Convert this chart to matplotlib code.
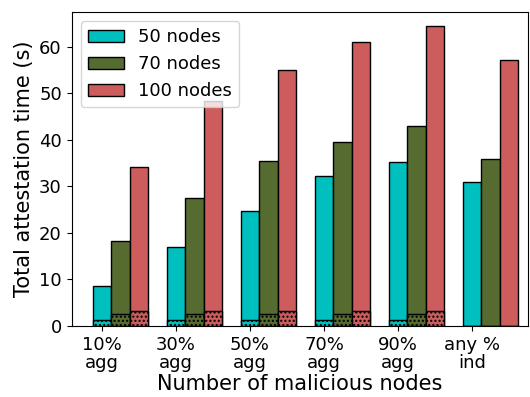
import numpy as np
import matplotlib.pyplot as plt

labels = ['10%\nagg', '30%\nagg', '50%\nagg', '70%\nagg', '90%\nagg', 'any %\nind']
total_50 = [8.6, 17.0, 24.7, 32.2, 35.3, 30.9]
total_70 = [18.3, 27.5, 35.5, 39.6, 43.0, 35.9]
total_100 = [34.1, 48.4, 55.0, 61.1, 64.5, 57.2]
# hatched part (aggregation cases only)
base_50 = [1.3, 1.3, 1.3, 1.3, 1.3, 0]
base_70 = [2.6, 2.6, 2.6, 2.6, 2.6, 0]
base_100 = [3.3, 3.3, 3.3, 3.3, 3.3, 0]

x = np.arange(len(labels))
w = 0.25

fig = plt.figure(figsize=(5.3, 3.97), dpi=100)
ax = fig.add_axes([0.135, 0.179, 0.862, 0.791])

series = [(total_50, base_50, 'c', '50 nodes'),
          (total_70, base_70, 'darkolivegreen', '70 nodes'),
          (total_100, base_100, 'indianred', '100 nodes')]
for i, (tot, base, col, lab) in enumerate(series):
    ax.bar(x + i*w, tot, w, color=col, edgecolor='black', label=lab)
    ax.bar(x + i*w, base, w, color=col, edgecolor='black', hatch='....')

ax.set_xticks(x)
ax.set_xticklabels(labels, fontsize=13, linespacing=1.0)
ax.tick_params(axis='y', labelsize=13)
ax.set_yticks(range(0, 61, 10))
ax.set_ylim(0, 67.5)
ax.set_xlim(-0.41, 5.76)
ax.set_xlabel('Number of malicious nodes', fontsize=15, labelpad=2)
ax.set_ylabel('Total attestation time (s)', fontsize=15)
ax.legend(loc='upper left', fontsize=13)

plt.savefig('out.png')
